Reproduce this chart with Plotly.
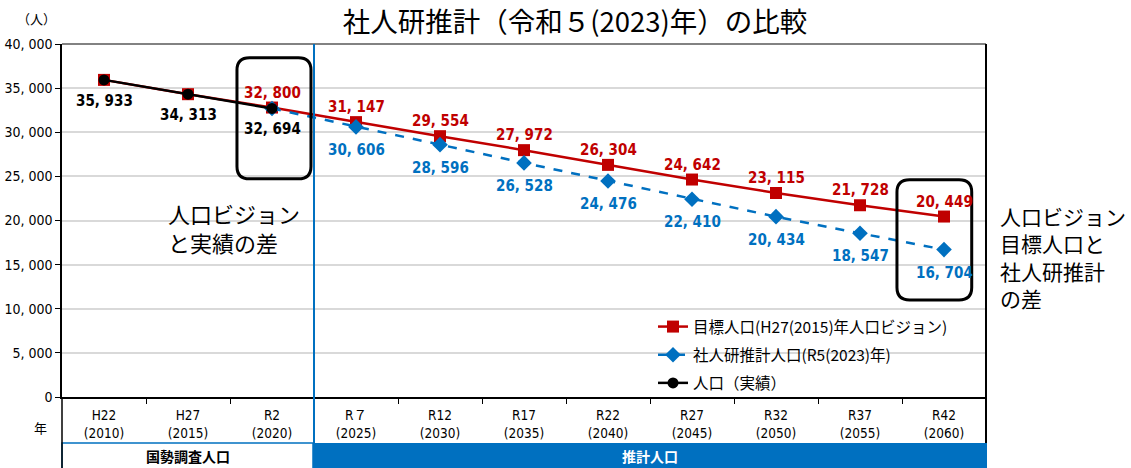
import plotly.graph_objects as go

# 年次区分
periods = ["H22", "H27", "R2", "R７", "R12", "R17", "R22", "R27", "R32", "R37", "R42"]
years = [2010, 2015, 2020, 2025, 2030, 2035, 2040, 2045, 2050, 2055, 2060]

# 目標人口(H27(2015)年人口ビジョン)
vision = [35933, 34313, 32800, 31147, 29554, 27972, 26304, 24642, 23115, 21728, 20449]
# 社人研推計人口(R5(2023)年)
ipss = [None, None, 32694, 30606, 28596, 26528, 24476, 22410, 20434, 18547, 16704]
# 人口（実績）
actual = [35933, 34313, 32694, None, None, None, None, None, None, None, None]

# ラベルを付ける点
vision_label_from = 2
ipss_label_from = 3

y_ticks = [0, 5000, 10000, 15000, 20000, 25000, 30000, 35000, 40000]

RED = "#C00000"
BLUE = "#0070C0"
NUM_FONT = "DejaVu Sans Condensed, Liberation Sans Narrow, Roboto, Noto Sans CJK JP, sans-serif"
JP_FONT = "Noto Sans CJK JP, sans-serif"

# plot area in pixels: l=62 r=986 t=44 b=397
W, H = 1131, 468
L, R, T, B = 62, 986, 44, 397


def fmt(v):
    return f"{v:,}".replace(",", ", ")


def px_x(x):
    return (x - L) / (R - L)


def px_y(y):
    return (B - y) / (B - T)


def rounded_box(x0, x1, y0, y1, rx, ry):
    return (f"M {x0+rx},{y0} L {x1-rx},{y0} Q {x1},{y0} {x1},{y0+ry} "
            f"L {x1},{y1-ry} Q {x1},{y1} {x1-rx},{y1} L {x0+rx},{y1} "
            f"Q {x0},{y1} {x0},{y1-ry} L {x0},{y0+ry} Q {x0},{y0} {x0+rx},{y0} Z")


def note(x, y, text, size, color="black", bold=False, xanchor="center", yanchor="middle"):
    return dict(xref="paper", yref="paper", x=px_x(x), y=px_y(y), xanchor=xanchor, yanchor=yanchor,
                align="left", showarrow=False, text=text,
                font=dict(family=JP_FONT, size=size, color=color, weight="bold" if bold else "normal"))


xs = list(range(len(periods)))
tick_text = [f"{p}<br>({y})" for p, y in zip(periods, years)]

fig = go.Figure()
fig.add_trace(go.Scatter(
    x=xs, y=vision, mode="lines+markers", name="目標人口(H27(2015)年人口ビジョン)",
    line=dict(color=RED, width=2.5), marker=dict(symbol="square", size=12, color=RED),
    legendgroup="a",
))
fig.add_trace(go.Scatter(
    x=xs, y=ipss, mode="lines+markers", name="社人研推計人口(R5(2023)年)",
    line=dict(color=BLUE, width=2.5, dash="dash"), marker=dict(symbol="diamond", size=12, color=BLUE),
    legendgroup="b",
))
fig.add_trace(go.Scatter(
    x=xs, y=actual, mode="lines+markers", name="人口（実績）",
    line=dict(color="black", width=2.5), marker=dict(symbol="circle", size=11, color="black"),
    legendgroup="c",
))

annotations = []
for i, v in enumerate(vision):
    if i >= vision_label_from:
        annotations.append(dict(x=i, y=v, text=fmt(v), showarrow=False, yshift=15,
                                font=dict(family=NUM_FONT, size=15, color=RED, weight="bold")))
for i, v in enumerate(ipss):
    if v is not None and i >= ipss_label_from:
        annotations.append(dict(x=i, y=v, text=fmt(v), showarrow=False, yshift=-23,
                                font=dict(family=NUM_FONT, size=15, color=BLUE, weight="bold")))
for i, v in enumerate(actual):
    if v is not None:
        annotations.append(dict(x=i, y=v, text=fmt(v), showarrow=False, yshift=-21,
                                font=dict(family=NUM_FONT, size=15, color="black", weight="bold")))

annotations += [
    note(166, 195, "人口ビジョン<br>と実績の差", 22, xanchor="left", yanchor="top"),
    note(998, 199, "人口ビジョン<br>目標人口と<br>社人研推計<br>の差", 21, xanchor="left", yanchor="top"),
    note(36, 18, "（人）", 13),
    note(40, 427, "年", 13),
    note(188, 456, "国勢調査人口", 14, bold=True),
    note(650, 456, "推計人口", 14, color="white", bold=True),
]

shapes = [
    # 下部の区分帯
    dict(type="rect", xref="paper", yref="paper", x0=0, x1=px_x(313), y0=px_y(470), y1=px_y(443),
         line=dict(color=BLUE, width=1.5), fillcolor="white", layer="below"),
    dict(type="rect", xref="paper", yref="paper", x0=px_x(313), x1=px_x(987), y0=px_y(470), y1=px_y(443),
         line=dict(width=0), fillcolor=BLUE, layer="below"),
    # 枠線
    dict(type="line", xref="paper", yref="paper", x0=0, x1=1, y0=1, y1=1,
         line=dict(color="#595959", width=1.5)),
    dict(type="line", xref="paper", yref="paper", x0=1, x1=1, y0=px_y(443), y1=1,
         line=dict(color="black", width=2)),
    dict(type="line", xref="paper", yref="paper", x0=0, x1=0, y0=px_y(470), y1=0,
         line=dict(color="black", width=1.5)),
    # 実績と推計の境界
    dict(type="line", xref="x", yref="paper", x0=2.5, x1=2.5, y0=px_y(443), y1=1,
         line=dict(color=BLUE, width=2)),
    # 差の強調枠
    dict(type="path", xref="x", yref="y", path=rounded_box(1.583, 2.464, 24720, 38440, 0.15, 1400),
         line=dict(color="black", width=3)),
    dict(type="path", xref="x", yref="y", path=rounded_box(9.44, 10.33, 11000, 24610, 0.15, 1400),
         line=dict(color="black", width=3)),
]

fig.update_layout(
    width=W, height=H,
    margin=dict(l=L, r=W - R, t=T, b=H - B, pad=0),
    paper_bgcolor="white", plot_bgcolor="white",
    title=dict(text="社人研推計（令和５(2023)年）の比較", x=575 / W, xanchor="center",
               y=1 - 22 / H, yanchor="middle", font=dict(family=JP_FONT, size=27.5, color="black")),
    xaxis=dict(range=[-0.5, 10.5], tickvals=xs, ticktext=tick_text, ticks="", automargin=False,
               showline=True, linecolor="black", linewidth=1.5, showgrid=False, zeroline=False,
               ticklabelstandoff=5,
               tickfont=dict(family=NUM_FONT, size=13.5, color="black"),
               minor=dict(tickvals=[i + 0.5 for i in xs[:-1]], ticks="outside", ticklen=5,
                          tickcolor="black", tickwidth=1, showgrid=False)),
    yaxis=dict(range=[0, 40000], tickvals=y_ticks, ticktext=[fmt(v) for v in y_ticks], automargin=False,
               ticks="outside", ticklen=5, tickcolor="black", showline=True, linecolor="black",
               linewidth=1.5, gridcolor="#D9D9D9", gridwidth=1.5, zeroline=False,
               tickfont=dict(family=NUM_FONT, size=14, color="black")),
    legend=dict(x=px_x(653), y=px_y(310), xanchor="left", yanchor="top", traceorder="grouped",
                tracegroupgap=5, bgcolor="rgba(0,0,0,0)",
                font=dict(family=JP_FONT, size=15.5, color="black")),
    annotations=annotations,
    shapes=shapes,
    showlegend=True,
)

fig.write_html("out.html", config={"displayModeBar": False},
               post_script="document.body.style.margin='0';")
